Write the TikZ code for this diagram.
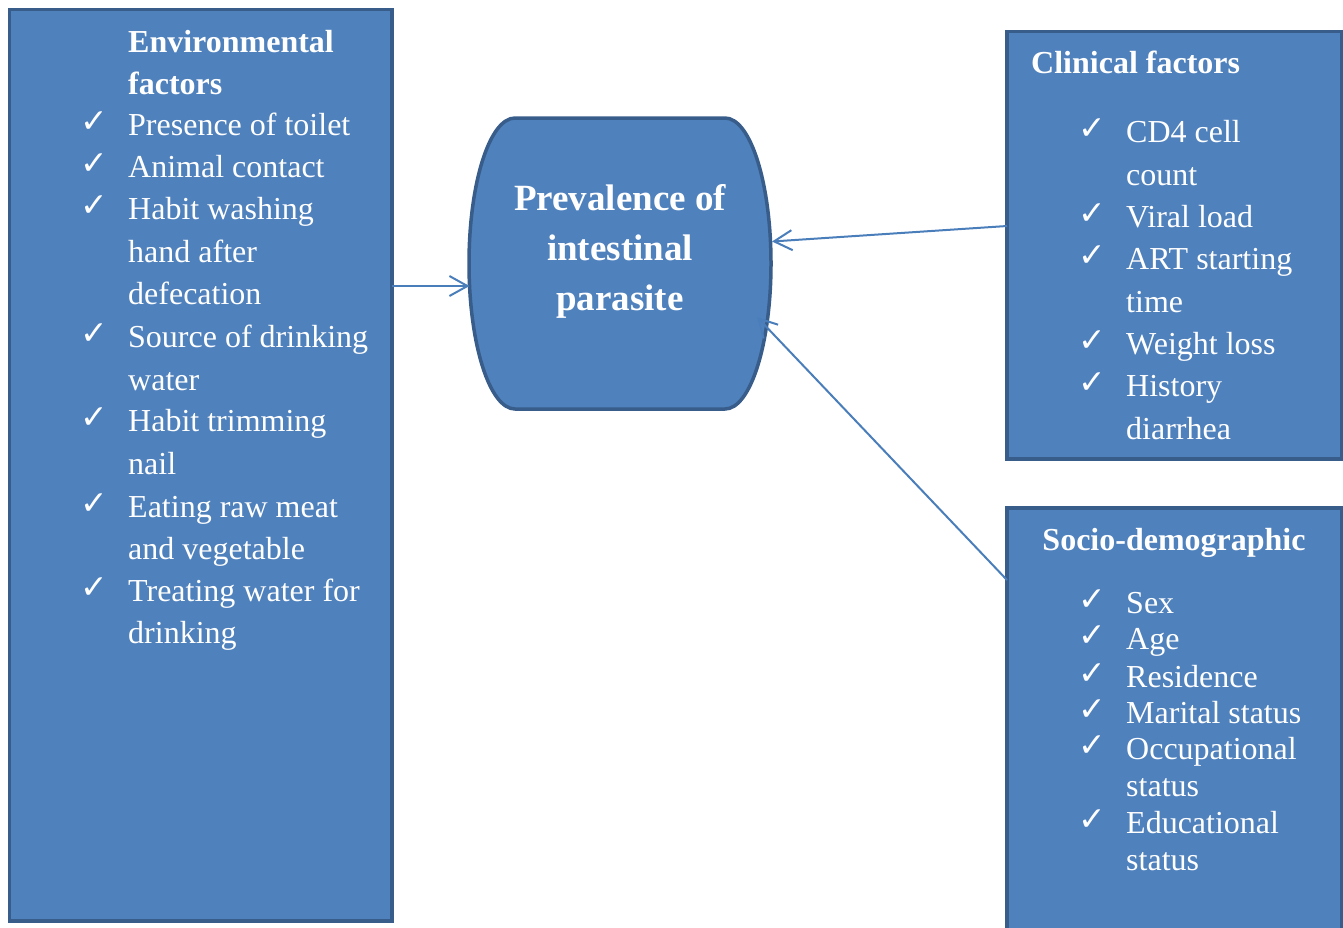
\documentclass[tikz,border=0pt]{standalone}
\usepackage{fontspec}
\setmainfont{Liberation Serif}
\newfontfamily\symfont{DejaVu Sans}
\usetikzlibrary{arrows.meta}
\definecolor{boxfill}{HTML}{4F81BD}
\definecolor{boxline}{HTML}{385D8A}
\definecolor{arrowc}{HTML}{4A7EBB}
\begin{document}
\begin{tikzpicture}[x=1pt,y=-1pt,
  panel/.style={draw=boxline,fill=boxfill,line width=3.5pt,outer sep=0pt,inner sep=0pt,anchor=north west},
  txt/.style={anchor=base west,inner sep=0pt,text=white,font=\fontsize{32}{38}\selectfont},
  ttl/.style={anchor=base west,inner sep=0pt,text=white,font=\fontsize{32}{38}\selectfont\bfseries},
  ctr/.style={anchor=base,inner sep=0pt,text=white,font=\fontsize{37}{44}\selectfont\bfseries},
  chk/.style={anchor=base west,inner sep=0pt,text=white,font=\symfont\fontsize{33}{38}\selectfont},
  conn/.style={draw=arrowc,line width=2pt,-{Straight Barb[length=18pt,width=20pt]}}
]
\useasboundingbox (0,0) rectangle (1343,927);
\begin{scope}
\clip (0,0) rectangle (1343,927);
% boxes
\node[panel,minimum width=382.5pt,minimum height=911.5pt] (env) at (9.5,9.5) {};
\node[panel,minimum width=334.5pt,minimum height=427.5pt] (clin) at (1007,31.5) {};
\node[panel,minimum width=334.5pt,minimum height=450pt] (socio) at (1007,508) {};
% central shape
\path[draw=boxline,fill=boxfill,line width=3.5pt]
  (515,118) -- (725,118)
  arc[start angle=-90, end angle=90, x radius=46, y radius=145.5]
  -- (515,409)
  arc[start angle=90, end angle=270, x radius=46, y radius=145.5]
  -- cycle;
\node[ctr] (c1) at (620,210) {Prevalence of};
\node[ctr] (c2) at (620,260) {intestinal};
\node[ctr] (c3) at (620,310) {parasite};
% environmental
\node[ttl] (e0) at (128,52) {Environmental};
\node[ttl] (e00) at (128,94) {factors};
\foreach \n/\y/\t/\c in {e1/135/Presence of toilet/1, e2/177/Animal contact/1,
   e3/219/Habit washing/1, e4/262/hand after/0, e5/304/defecation/0,
   e6/347/Source of drinking/1, e7/390/water/0, e8/431/Habit trimming/1,
   e9/474/nail/0, e10/517/Eating raw meat/1, e11/559/and vegetable/0,
   e12/601/Treating water for/1, e13/643/drinking/0}{
  \node[txt] (\n) at (128,\y) {\t};
  \ifnum\c=1 \node[chk] (k\n) at (80,\y-3) {✓};\fi
}
% clinical
\node[ttl] (k0) at (1031,73) {Clinical factors};
\foreach \n/\y/\t/\c in {l1/142/CD4 cell/1, l2/185/count/0, l3/227/Viral load/1,
   l4/269/ART starting/1, l5/312/time/0, l6/354/Weight loss/1,
   l7/396/History/1, l8/439/diarrhea/0}{
  \node[txt] (\n) at (1126,\y) {\t};
  \ifnum\c=1 \node[chk] (k\n) at (1078,\y-3) {✓};\fi
}
% socio-demographic
\node[ttl,anchor=base] (s0) at (1174,550) {Socio-demographic};
\foreach \n/\y/\t/\c in {s1/613/Sex/1, s2/649/Age/1, s3/687/Residence/1,
   s4/723/Marital status/1, s5/759/Occupational/1, s6/796/status/0,
   s7/833/Educational/1, s8/870/status/0}{
  \node[txt] (\n) at (1126,\y) {\t};
  \ifnum\c=1 \node[chk] (k\n) at (1078,\y-3) {✓};\fi
}
% connectors
\coordinate (p1) at (469.5,286);
\coordinate (q2) at (1007,226);
\coordinate (p2) at (772,241.5);
\coordinate (q3) at (1007,580);
\coordinate (p3) at (757,317);
\draw[conn] (env.east |- p1) -- (p1);
\draw[conn] (clin.west |- q2) -- (p2);
\draw[conn] (socio.west |- q3) -- (p3);
\end{scope}
\end{tikzpicture}
\end{document}
